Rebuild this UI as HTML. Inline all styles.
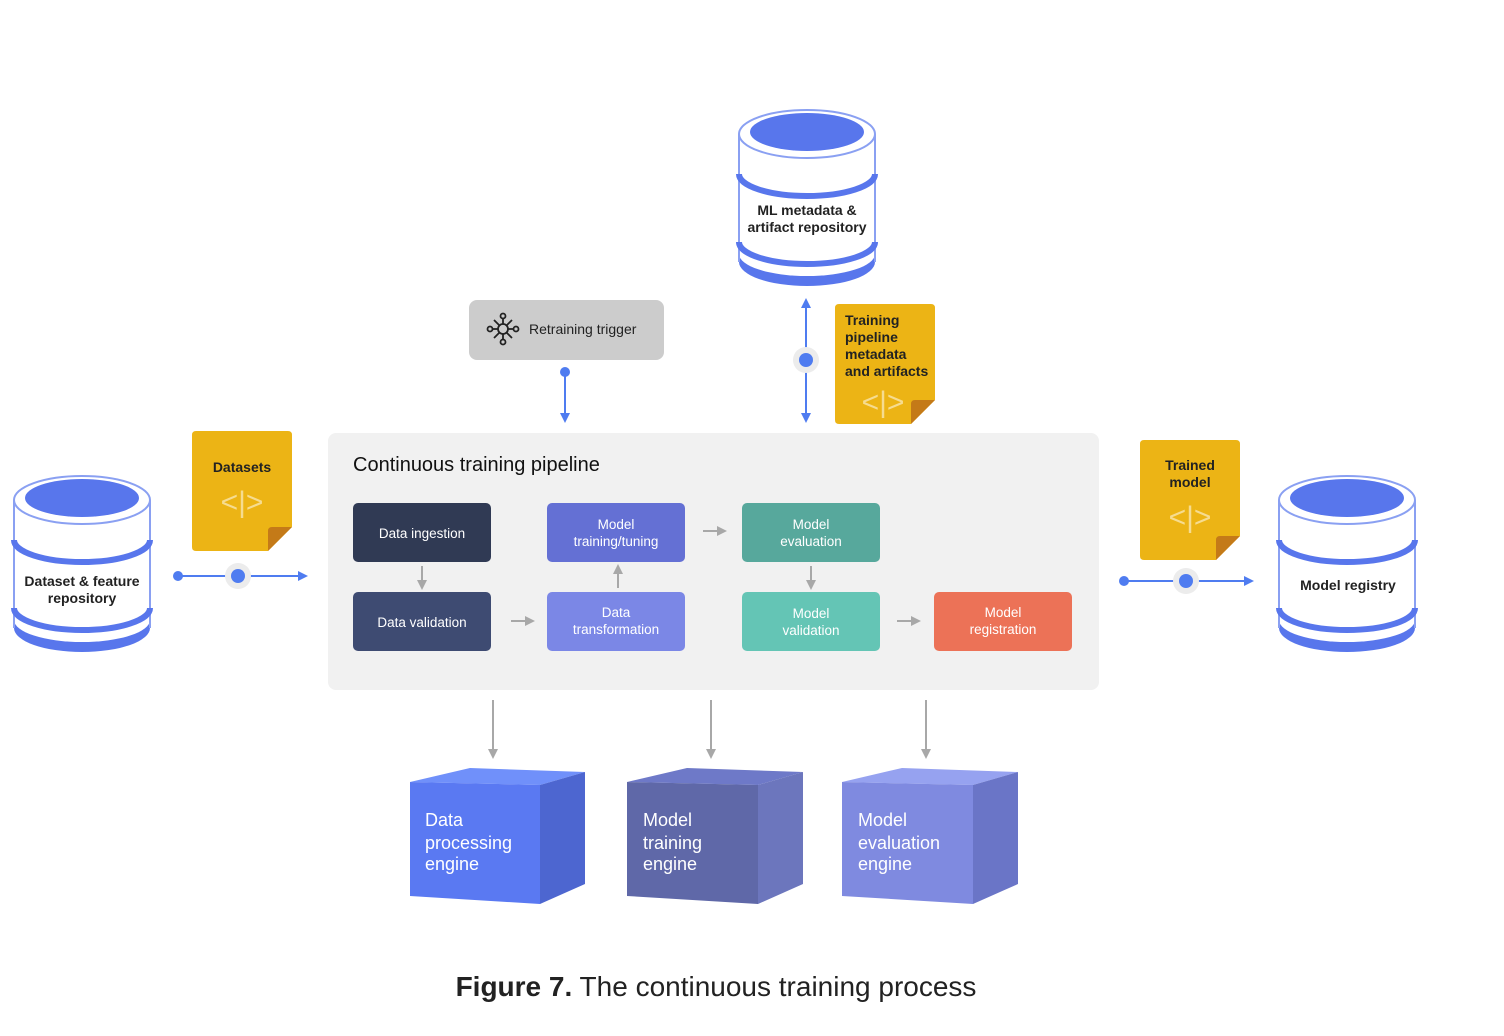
<!DOCTYPE html>
<html><head><meta charset="utf-8"><style>
html,body{margin:0;padding:0;background:#fff;}
svg{display:block;font-family:"Liberation Sans",sans-serif;}
</style></head><body>
<svg width="1504" height="1036" viewBox="0 0 1504 1036" xmlns="http://www.w3.org/2000/svg">
<defs>
<marker id="ab" markerWidth="10" markerHeight="10" refX="8" refY="5" orient="auto" markerUnits="userSpaceOnUse"><path d="M0,0 L10,5 L0,10 z" fill="#4f7cf0"/></marker>
<marker id="ag" markerWidth="10" markerHeight="10" refX="8" refY="5" orient="auto" markerUnits="userSpaceOnUse"><path d="M0,0 L10,5 L0,10 z" fill="#a8a8a8"/></marker>
<g id="cyl">
<ellipse cx="68" cy="150" rx="68" ry="24" fill="#5876ec"/>
<rect x="0" y="22" width="136" height="122" fill="#fff"/>
<ellipse cx="68" cy="142" rx="68" ry="22" fill="#fff"/>
<path d="M0,22 V150 M136,22 V150" stroke="#8aa0f2" stroke-width="2"/>
<path d="M0,62 A68,22 0 0 0 136,62" fill="none" stroke="#5876ec" stroke-width="6"/>
<path d="M0,130 A68,22 0 0 0 136,130" fill="none" stroke="#5876ec" stroke-width="6"/>
<ellipse cx="68" cy="22" rx="68" ry="24" fill="#fff" stroke="#8aa0f2" stroke-width="2"/>
<ellipse cx="68" cy="20" rx="57" ry="19" fill="#5876ec"/>
</g>
<g id="doc">
<path d="M4,0 H96 Q100,0 100,4 V96 L76,120 H4 Q0,120 0,116 V4 Q0,0 4,0z" fill="#ecb415"/>
<path d="M100,96 L76,120 V100 Q76,96 80,96z" fill="#c47a18"/>
</g>
</defs>

<!-- cylinders -->
<use href="#cyl" x="14" y="478"/>
<text x="82" y="586" font-size="14" font-weight="bold" fill="#222" text-anchor="middle">Dataset &amp; feature</text>
<text x="82" y="603" font-size="14" font-weight="bold" fill="#222" text-anchor="middle">repository</text>
<use href="#cyl" x="739" y="112"/>
<text x="807" y="215" font-size="14" font-weight="bold" fill="#222" text-anchor="middle">ML metadata &amp;</text>
<text x="807" y="232" font-size="14" font-weight="bold" fill="#222" text-anchor="middle">artifact repository</text>
<use href="#cyl" x="1279" y="478"/>
<text x="1348" y="590" font-size="14" font-weight="bold" fill="#222" text-anchor="middle">Model registry</text>

<!-- docs -->
<use href="#doc" x="192" y="431"/>
<text x="242" y="472" font-size="14" font-weight="bold" fill="#222" text-anchor="middle">Datasets</text>
<text x="242" y="512" font-size="30" fill="#f6dc90" text-anchor="middle">&lt;|&gt;</text>
<use href="#doc" x="835" y="304"/>
<text font-size="14" font-weight="bold" fill="#222"><tspan x="845" y="325">Training</tspan><tspan x="845" y="342">pipeline</tspan><tspan x="845" y="359">metadata</tspan><tspan x="845" y="376">and artifacts</tspan></text>
<text x="883" y="412" font-size="30" fill="#f6dc90" text-anchor="middle">&lt;|&gt;</text>
<use href="#doc" x="1140" y="440"/>
<text x="1190" y="470" font-size="14" font-weight="bold" fill="#222" text-anchor="middle">Trained</text>
<text x="1190" y="487" font-size="14" font-weight="bold" fill="#222" text-anchor="middle">model</text>
<text x="1190" y="527" font-size="30" fill="#f6dc90" text-anchor="middle">&lt;|&gt;</text>

<!-- blue connectors -->
<line x1="178" y1="576" x2="306" y2="576" stroke="#4f7cf0" stroke-width="2" marker-end="url(#ab)"/>
<circle cx="178" cy="576" r="5" fill="#4f7cf0"/>
<circle cx="238" cy="576" r="13" fill="#ececec"/><circle cx="238" cy="576" r="7" fill="#4f7cf0"/>
<line x1="1124" y1="581" x2="1252" y2="581" stroke="#4f7cf0" stroke-width="2" marker-end="url(#ab)"/>
<circle cx="1124" cy="581" r="5" fill="#4f7cf0"/>
<circle cx="1186" cy="581" r="13" fill="#ececec"/><circle cx="1186" cy="581" r="7" fill="#4f7cf0"/>
<line x1="565" y1="372" x2="565" y2="421" stroke="#4f7cf0" stroke-width="2" marker-end="url(#ab)"/>
<circle cx="565" cy="372" r="5" fill="#4f7cf0"/>
<line x1="806" y1="360" x2="806" y2="421" stroke="#4f7cf0" stroke-width="2" marker-end="url(#ab)"/>
<line x1="806" y1="360" x2="806" y2="300" stroke="#4f7cf0" stroke-width="2" marker-end="url(#ab)"/>
<circle cx="806" cy="360" r="13" fill="#ececec"/><circle cx="806" cy="360" r="7" fill="#4f7cf0"/>

<!-- retraining trigger -->
<rect x="469" y="300" width="195" height="60" rx="8" fill="#cccccc"/>
<g stroke="#222" stroke-width="1.8" fill="none">
<circle cx="503" cy="329" r="5"/>
<line x1="503" y1="324" x2="503" y2="318"/><line x1="503" y1="334" x2="503" y2="340"/>
<line x1="498" y1="329" x2="492" y2="329"/><line x1="508" y1="329" x2="514" y2="329"/>
<line x1="499" y1="325" x2="494" y2="320"/><line x1="507" y1="325" x2="512" y2="320"/>
<line x1="499" y1="333" x2="494" y2="338"/><line x1="507" y1="333" x2="512" y2="338"/>
<circle cx="503" cy="316" r="2.5"/><circle cx="503" cy="342" r="2.5"/><circle cx="490" cy="329" r="2.5"/><circle cx="516" cy="329" r="2.5"/>
</g>
<text x="529" y="334" font-size="14" fill="#222">Retraining trigger</text>

<!-- pipeline box -->
<rect x="328" y="433" width="771" height="257" rx="8" fill="#f1f1f1"/>
<text x="353" y="471" font-size="20" fill="#111">Continuous training pipeline</text>

<rect x="353" y="503" width="138" height="59" rx="5" fill="#303a54"/>
<text x="422" y="538" font-size="13.5" fill="#fff" text-anchor="middle">Data ingestion</text>
<rect x="353" y="592" width="138" height="59" rx="5" fill="#3e4b72"/>
<text x="422" y="627" font-size="13.5" fill="#fff" text-anchor="middle">Data validation</text>
<rect x="547" y="503" width="138" height="59" rx="5" fill="#6470d4"/>
<text x="616" y="529" font-size="13.5" fill="#fff" text-anchor="middle">Model</text>
<text x="616" y="546" font-size="13.5" fill="#fff" text-anchor="middle">training/tuning</text>
<rect x="547" y="592" width="138" height="59" rx="5" fill="#7b87e6"/>
<text x="616" y="617" font-size="13.5" fill="#fff" text-anchor="middle">Data</text>
<text x="616" y="634" font-size="13.5" fill="#fff" text-anchor="middle">transformation</text>
<rect x="742" y="503" width="138" height="59" rx="5" fill="#57a89c"/>
<text x="811" y="529" font-size="13.5" fill="#fff" text-anchor="middle">Model</text>
<text x="811" y="546" font-size="13.5" fill="#fff" text-anchor="middle">evaluation</text>
<rect x="742" y="592" width="138" height="59" rx="5" fill="#64c5b5"/>
<text x="811" y="618" font-size="13.5" fill="#fff" text-anchor="middle">Model</text>
<text x="811" y="635" font-size="13.5" fill="#fff" text-anchor="middle">validation</text>
<rect x="934" y="592" width="138" height="59" rx="5" fill="#ec7257"/>
<text x="1003" y="617" font-size="13.5" fill="#fff" text-anchor="middle">Model</text>
<text x="1003" y="634" font-size="13.5" fill="#fff" text-anchor="middle">registration</text>

<g stroke="#a8a8a8" stroke-width="2">
<line x1="422" y1="566" x2="422" y2="588" marker-end="url(#ag)"/>
<line x1="511" y1="621" x2="533" y2="621" marker-end="url(#ag)"/>
<line x1="618" y1="588" x2="618" y2="566" marker-end="url(#ag)"/>
<line x1="703" y1="531" x2="725" y2="531" marker-end="url(#ag)"/>
<line x1="811" y1="566" x2="811" y2="588" marker-end="url(#ag)"/>
<line x1="897" y1="621" x2="919" y2="621" marker-end="url(#ag)"/>
<line x1="493" y1="700" x2="493" y2="757" marker-end="url(#ag)"/>
<line x1="711" y1="700" x2="711" y2="757" marker-end="url(#ag)"/>
<line x1="926" y1="700" x2="926" y2="757" marker-end="url(#ag)"/>
</g>

<!-- engines -->
<polygon points="410,782 470,768 585,772 540,785" fill="#7090fa"/>
<polygon points="410,782 540,785 540,904 410,896" fill="#5a79f2"/>
<polygon points="540,785 585,772 585,884 540,904" fill="#4d66d0"/>
<text font-size="18" fill="#fff"><tspan x="425" y="826">Data</tspan><tspan x="425" y="849">processing</tspan><tspan x="425" y="870">engine</tspan></text>

<polygon points="627,782 687,768 803,772 758,785" fill="#6e79c8"/>
<polygon points="627,782 758,785 758,904 627,896" fill="#5f68a8"/>
<polygon points="758,785 803,772 803,884 758,904" fill="#6c76bd"/>
<text font-size="18" fill="#fff"><tspan x="643" y="826">Model</tspan><tspan x="643" y="849">training</tspan><tspan x="643" y="870">engine</tspan></text>

<polygon points="842,782 902,768 1018,772 973,785" fill="#96a2f0"/>
<polygon points="842,782 973,785 973,904 842,896" fill="#7f8ae0"/>
<polygon points="973,785 1018,772 1018,884 973,904" fill="#6a75c7"/>
<text font-size="18" fill="#fff"><tspan x="858" y="826">Model</tspan><tspan x="858" y="849">evaluation</tspan><tspan x="858" y="870">engine</tspan></text>

<text x="716" y="996" font-size="28" fill="#222" text-anchor="middle"><tspan font-weight="bold">Figure 7.</tspan> The continuous training process</text>
</svg>
</body></html>
